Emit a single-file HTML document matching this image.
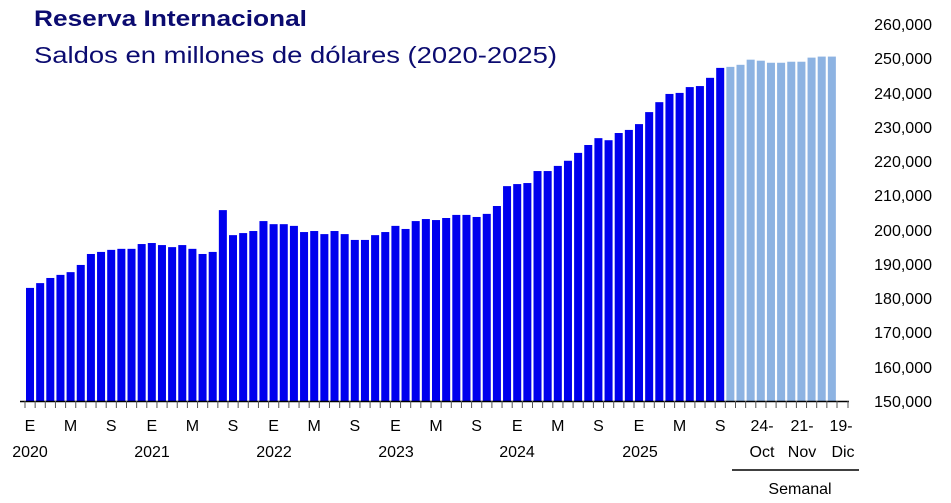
<!DOCTYPE html>
<html><head><meta charset="utf-8"><style>
html,body{margin:0;padding:0;background:#fff;}
svg{display:block;font-family:"Liberation Sans",sans-serif;}
</style></head><body>
<svg width="951" height="503" viewBox="0 0 951 503" xmlns="http://www.w3.org/2000/svg">
<text x="34" y="26" font-size="22" font-weight="bold" fill="#0b0b70" textLength="273" lengthAdjust="spacingAndGlyphs">Reserva Internacional</text>
<text x="34" y="63" font-size="23" fill="#0b0b70" textLength="523" lengthAdjust="spacingAndGlyphs">Saldos en millones de dólares (2020-2025)</text>
<g transform="translate(26,401) scale(10.15,-3.427)" fill="#0000ee">
<rect x="0" y="0" width="0.79" height="33.0"/><rect x="1" y="0" width="0.79" height="34.4"/><rect x="2" y="0" width="0.79" height="35.9"/><rect x="3" y="0" width="0.79" height="36.8"/><rect x="4" y="0" width="0.79" height="37.6"/><rect x="5" y="0" width="0.79" height="39.7"/><rect x="6" y="0" width="0.79" height="42.9"/><rect x="7" y="0" width="0.79" height="43.5"/><rect x="8" y="0" width="0.79" height="44.1"/><rect x="9" y="0" width="0.79" height="44.4"/><rect x="10" y="0" width="0.79" height="44.4"/><rect x="11" y="0" width="0.79" height="45.8"/>
<rect x="12" y="0" width="0.79" height="46.1"/><rect x="13" y="0" width="0.79" height="45.5"/><rect x="14" y="0" width="0.79" height="44.9"/><rect x="15" y="0" width="0.79" height="45.5"/><rect x="16" y="0" width="0.79" height="44.4"/><rect x="17" y="0" width="0.79" height="42.9"/><rect x="18" y="0" width="0.79" height="43.5"/><rect x="19" y="0" width="0.79" height="55.7"/><rect x="20" y="0" width="0.79" height="48.4"/><rect x="21" y="0" width="0.79" height="49.0"/><rect x="22" y="0" width="0.79" height="49.6"/><rect x="23" y="0" width="0.79" height="52.5"/>
<rect x="24" y="0" width="0.79" height="51.6"/><rect x="25" y="0" width="0.79" height="51.6"/><rect x="26" y="0" width="0.79" height="51.1"/><rect x="27" y="0" width="0.79" height="49.3"/><rect x="28" y="0" width="0.79" height="49.6"/><rect x="29" y="0" width="0.79" height="48.7"/><rect x="30" y="0" width="0.79" height="49.6"/><rect x="31" y="0" width="0.79" height="48.7"/><rect x="32" y="0" width="0.79" height="47.0"/><rect x="33" y="0" width="0.79" height="47.0"/><rect x="34" y="0" width="0.79" height="48.4"/><rect x="35" y="0" width="0.79" height="49.3"/>
<rect x="36" y="0" width="0.79" height="51.1"/><rect x="37" y="0" width="0.79" height="50.2"/><rect x="38" y="0" width="0.79" height="52.5"/><rect x="39" y="0" width="0.79" height="53.1"/><rect x="40" y="0" width="0.79" height="52.8"/><rect x="41" y="0" width="0.79" height="53.4"/><rect x="42" y="0" width="0.79" height="54.3"/><rect x="43" y="0" width="0.79" height="54.3"/><rect x="44" y="0" width="0.79" height="53.7"/><rect x="45" y="0" width="0.79" height="54.6"/><rect x="46" y="0" width="0.79" height="56.9"/><rect x="47" y="0" width="0.79" height="62.7"/>
<rect x="48" y="0" width="0.79" height="63.3"/><rect x="49" y="0" width="0.79" height="63.6"/><rect x="50" y="0" width="0.79" height="67.1"/><rect x="51" y="0" width="0.79" height="67.1"/><rect x="52" y="0" width="0.79" height="68.6"/><rect x="53" y="0" width="0.79" height="70.1"/><rect x="54" y="0" width="0.79" height="72.4"/><rect x="55" y="0" width="0.79" height="74.7"/><rect x="56" y="0" width="0.79" height="76.7"/><rect x="57" y="0" width="0.79" height="76.1"/><rect x="58" y="0" width="0.79" height="78.2"/><rect x="59" y="0" width="0.79" height="79.1"/>
<rect x="60" y="0" width="0.79" height="80.8"/><rect x="61" y="0" width="0.79" height="84.3"/><rect x="62" y="0" width="0.79" height="87.2"/><rect x="63" y="0" width="0.79" height="89.6"/><rect x="64" y="0" width="0.79" height="89.9"/><rect x="65" y="0" width="0.79" height="91.6"/><rect x="66" y="0" width="0.79" height="91.9"/><rect x="67" y="0" width="0.79" height="94.3"/><rect x="68" y="0" width="0.79" height="97.2"/>
<g fill="#8db3e2">
<rect x="69" y="0" width="0.79" height="97.5"/><rect x="70" y="0" width="0.79" height="98.1"/><rect x="71" y="0" width="0.79" height="99.6"/><rect x="72" y="0" width="0.79" height="99.3"/><rect x="73" y="0" width="0.79" height="98.7"/><rect x="74" y="0" width="0.79" height="98.7"/><rect x="75" y="0" width="0.79" height="99.0"/><rect x="76" y="0" width="0.79" height="99.0"/><rect x="77" y="0" width="0.79" height="100.2"/><rect x="78" y="0" width="0.79" height="100.5"/><rect x="79" y="0" width="0.79" height="100.5"/>
</g></g>
<line x1="20" y1="401.5" x2="849" y2="401.5" stroke="#000" stroke-width="1.5"/>
<g stroke="#555" stroke-width="1">
<path d="M25 401V408M35.15 401V408M45.3 401V408M55.45 401V408M65.6 401V408M75.75 401V408M85.9 401V408M96.05 401V408M106.2 401V408M116.35 401V408M126.5 401V408M136.65 401V408M146.8 401V408M156.95 401V408M167.1 401V408M177.25 401V408M187.4 401V408M197.55 401V408M207.7 401V408M217.85 401V408M228 401V408M238.15 401V408M248.3 401V408M258.45 401V408M268.6 401V408M278.75 401V408M288.9 401V408M299.05 401V408M309.2 401V408M319.35 401V408M329.5 401V408M339.65 401V408M349.8 401V408M359.95 401V408M370.1 401V408M380.25 401V408M390.4 401V408M400.55 401V408M410.7 401V408M420.85 401V408M431 401V408M441.15 401V408M451.3 401V408M461.45 401V408M471.6 401V408M481.75 401V408M491.9 401V408M502.05 401V408M512.2 401V408M522.35 401V408M532.5 401V408M542.65 401V408M552.8 401V408M562.95 401V408M573.1 401V408M583.25 401V408M593.4 401V408M603.55 401V408M613.7 401V408M623.85 401V408M634 401V408M644.15 401V408M654.3 401V408M664.45 401V408M674.6 401V408M684.75 401V408M694.9 401V408M705.05 401V408M715.2 401V408M725.35 401V408M735.5 401V408M745.65 401V408M755.8 401V408M765.95 401V408M776.1 401V408M786.25 401V408M796.4 401V408M806.55 401V408M816.7 401V408M826.85 401V408M837 401V408M848 401V408"/>
</g>
<g font-size="16" fill="#000" text-anchor="middle">
<text x="30" y="431">E</text><text x="70.6" y="431">M</text><text x="111.2" y="431">S</text>
<text x="151.8" y="431">E</text><text x="192.4" y="431">M</text><text x="233" y="431">S</text>
<text x="273.6" y="431">E</text><text x="314.2" y="431">M</text><text x="354.8" y="431">S</text>
<text x="395.4" y="431">E</text><text x="436" y="431">M</text><text x="476.6" y="431">S</text>
<text x="517.2" y="431">E</text><text x="557.8" y="431">M</text><text x="598.4" y="431">S</text>
<text x="639" y="431">E</text><text x="679.6" y="431">M</text><text x="720.2" y="431">S</text>
<text x="762" y="431">24-</text><text x="802" y="431">21-</text><text x="841" y="431">19-</text>
<text x="762" y="457">Oct</text><text x="802" y="457">Nov</text><text x="843" y="457">Dic</text>
<text x="30" y="457">2020</text><text x="152" y="457">2021</text><text x="274" y="457">2022</text>
<text x="396" y="457">2023</text><text x="517" y="457">2024</text><text x="640" y="457">2025</text>
<text x="800" y="494">Semanal</text>
</g>
<line x1="732" y1="470" x2="859" y2="470" stroke="#000" stroke-width="1.5"/>
<g font-size="16" fill="#000" text-anchor="end">
<text x="932" y="407">150,000</text><text x="932" y="373">160,000</text><text x="932" y="338">170,000</text>
<text x="932" y="304">180,000</text><text x="932" y="270">190,000</text><text x="932" y="236">200,000</text>
<text x="932" y="201">210,000</text><text x="932" y="167">220,000</text><text x="932" y="133">230,000</text>
<text x="932" y="99">240,000</text><text x="932" y="64">250,000</text><text x="932" y="30">260,000</text>
</g>
</svg>
</body></html>
